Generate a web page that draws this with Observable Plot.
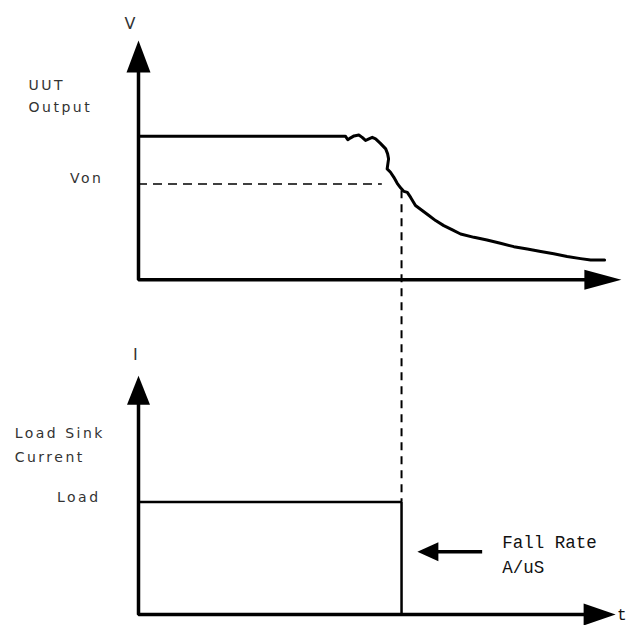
<!DOCTYPE html>
<html>
<head>
<meta charset="utf-8">
<script src="https://cdn.jsdelivr.net/npm/d3@7"></script>
<script src="https://cdn.jsdelivr.net/npm/@observablehq/plot@0.6"></script>
<style>
  html, body { margin: 0; padding: 0; background: #fff; }
  #chart svg { display: block; }
</style>
</head>
<body>
<div id="chart"></div>
<script>
// ---------- data (time t in arbitrary units, V / I in arbitrary units) ----------
const vOutputT = [0, 43.1, 43.6, 44.2, 44.9, 45.9, 46.6, 47.3, 48.0, 48.7, 49.4, 50.4, 51.5, 51.9, 52.1, 51.8, 52.5, 53.2, 53.9, 54.6, 55.3, 56.0, 56.7, 57.7, 59.1, 60.5, 61.9, 63.6, 65.4, 67.1, 69.9, 72.6, 75.4, 78.2, 81.0, 83.8, 86.5, 89.3, 92.1, 94.2, 97.1];
const vOutputV = [60, 60.0, 58.5, 59.3, 60.1, 60.5, 59.5, 58.2, 58.9, 59.5, 58.9, 57.0, 54.7, 52.6, 50.5, 46.3, 44.9, 42.8, 40.3, 38.4, 36.9, 36.5, 34.4, 31.0, 28.9, 26.8, 24.7, 22.6, 20.8, 19.1, 17.7, 16.6, 15.2, 13.8, 12.8, 11.8, 10.8, 9.7, 8.8, 8.2, 8.2];
const vOn = 40;            // Von level
const vOnEndT = 50.8;      // end of the Von dashed line
const tOff = 54.8;         // time at which the load is switched off
const vAtOff = 37.2;       // curve level at tOff
const loadLevel = 47;      // Load sink current
const upperTips = { v: 100, t: 100.6 };
const lowerTips = { i: 99.8, t: 99.4 };
const fallArrow = { tipT: 58.1, tailT: 71.7, i: 26.2 };

const axisNames = [
  { text: "V", t: -1.5, y: 105 },
  { text: "I", t: -0.4, y: 106.5 - 140 }
];
const titleLines = [
  { text: "UUT", t: -22.9, y: 79.5 },
  { text: "Output", t: -22.9, y: 69.9 },
  { text: "Load Sink", t: -25.8, y: 73.6 - 140 },
  { text: "Current", t: -25.8, y: 63.6 - 140 }
];
const levelLabels = [
  { text: "Von", t: -7.3, y: 40.6 },
  { text: "Load", t: -7.9, y: 47 - 140 }
];
const noteLabels = [
  { text: "Fall Rate", t: 75.8, i: 28 },
  { text: "A/uS", t: 75.8, i: 17.2 }
];

// ---------- layout: lower panel shares the y scale with an offset ----------
const LOWER = -140;
const low = (i) => i + LOWER;

// tapered triangle symbol with the tip at the anchor, pointing up
function tri(len, base) {
  return { draw(ctx) { ctx.moveTo(0, 0); ctx.lineTo(base / 2, len); ctx.lineTo(-base / 2, len); ctx.closePath(); } };
}

const curve = vOutputT.map((t, k) => ({ t, v: vOutputV[k] }));
const labelFont = { fontFamily: "DejaVu Sans", fontSize: 14, fill: "#333", lineAnchor: "bottom" };

const plot = Plot.plot({
  width: 629,
  height: 625,
  margin: 0,
  x: { domain: [0, 100], range: [138, 618], axis: null },
  y: { domain: [LOWER, 100], range: [614, 40], axis: null },
  marks: [
    // upper axes
    Plot.line([{ t: 0, v: upperTips.v - 5 }, { t: 0, v: 0 }, { t: upperTips.t - 4, v: 0 }], { x: "t", y: "v", stroke: "black", strokeWidth: 3.5, strokeLinejoin: "miter" }),
    Plot.dot([{ t: 0, v: upperTips.v }], { x: "t", y: "v", symbol: tri(32, 24), fill: "black", stroke: "none", r: 5 }),
    Plot.dot([{ t: upperTips.t, v: 0 }], { x: "t", y: "v", symbol: tri(37, 20), fill: "black", stroke: "none", r: 5, rotate: 90 }),
    // lower axes
    Plot.line([{ t: 0, v: low(lowerTips.i - 5) }, { t: 0, v: low(0) }, { t: lowerTips.t - 4, v: low(0) }], { x: "t", y: "v", stroke: "black", strokeWidth: 3.5, strokeLinejoin: "miter" }),
    Plot.dot([{ t: 0, v: low(lowerTips.i) }], { x: "t", y: "v", symbol: tri(29, 23), fill: "black", stroke: "none", r: 5 }),
    Plot.dot([{ t: lowerTips.t, v: low(0) }], { x: "t", y: "v", symbol: tri(32, 22), fill: "black", stroke: "none", r: 5, rotate: 90 }),
    // Von dashed line
    Plot.ruleY([vOn], { x1: 0, x2: vOnEndT, stroke: "black", strokeWidth: 1.5, strokeDasharray: "9,6" }),
    // vertical dashed line from the curve down to the load step
    Plot.ruleX([tOff], { y1: vAtOff, y2: low(loadLevel), stroke: "black", strokeWidth: 2, strokeDasharray: "8,6" }),
    // UUT output curve
    Plot.line(curve, { x: "t", y: "v", stroke: "black", strokeWidth: 3, strokeLinejoin: "round" }),
    // load sink current step
    Plot.line([{ t: 0, v: low(loadLevel) }, { t: tOff, v: low(loadLevel) }, { t: tOff, v: low(0) }], { x: "t", y: "v", stroke: "black", strokeWidth: 2.5, strokeLinejoin: "miter" }),
    // fall rate arrow
    Plot.ruleY([low(fallArrow.i)], { x1: fallArrow.tipT + 3, x2: fallArrow.tailT, stroke: "black", strokeWidth: 3.5 }),
    Plot.dot([{ t: fallArrow.tipT, v: low(fallArrow.i) }], { x: "t", y: "v", symbol: tri(21, 19), fill: "black", stroke: "none", r: 5, rotate: -90 }),
    // labels
    Plot.text(axisNames, { x: "t", y: "y", text: "text", textAnchor: "middle", ...labelFont, fontSize: 16 }),
    Plot.text(titleLines, { x: "t", y: "y", text: "text", textAnchor: "start", ...labelFont }),
    Plot.text(levelLabels, { x: "t", y: "y", text: "text", textAnchor: "end", ...labelFont }),
    Plot.text(noteLabels, { x: "t", y: (d) => low(d.i), text: "text", textAnchor: "start", lineAnchor: "bottom", fontFamily: "Liberation Mono", fontSize: 17.5, fill: "#111" }),
    Plot.text(["t"], { x: lowerTips.t + 0.3, y: low(0), text: (d) => d, textAnchor: "start", lineAnchor: "middle", fontFamily: "Liberation Mono", fontSize: 16, fill: "#111" })
  ]
});

d3.select(plot).selectAll('g[font-family="DejaVu Sans"] text').style("letter-spacing", "2.5px");
document.getElementById("chart").appendChild(plot);
</script>
</body>
</html>
